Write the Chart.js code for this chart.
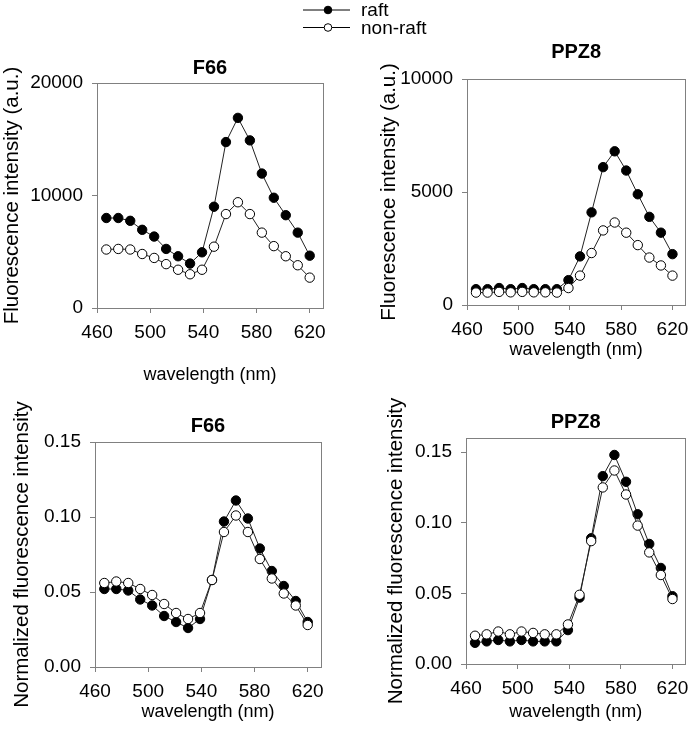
<!DOCTYPE html>
<html>
<head>
<meta charset="utf-8">
<script src="https://cdn.jsdelivr.net/npm/chart.js@4.4.1/dist/chart.umd.min.js"></script>
<style>
  body { margin: 0; background: #fff; }
  #wrap { position: relative; width: 697px; height: 744px; }
  #wrap canvas { position: absolute; left: 0; top: 0; }
</style>
</head>
<body>
<div id="wrap">
  <canvas id="f66Raw" width="697" height="744"></canvas>
  <canvas id="ppz8Raw" width="697" height="744"></canvas>
  <canvas id="f66Norm" width="697" height="744"></canvas>
  <canvas id="ppz8Norm" width="697" height="744"></canvas>
</div>
<script>
//DATA
const wavelength = [467, 476, 485, 494, 503, 512, 521, 530, 539, 548, 557, 566, 575, 584, 593, 602, 611, 620];

const f66RaftRaw = [8000, 8000, 7750, 6950, 6350, 5250, 4600, 3950, 4950, 9000, 14750, 16900, 14900, 11950, 9800, 8250, 6700, 4650];
const f66NonRaftRaw = [5200, 5250, 5200, 4800, 4450, 3900, 3400, 3000, 3400, 5450, 8350, 9400, 8350, 6700, 5500, 4600, 3800, 2700];

const ppz8RaftRaw = [700, 700, 750, 700, 750, 700, 700, 700, 1100, 2150, 4100, 6100, 6800, 5950, 4900, 3900, 3200, 2250];
const ppz8NonRaftRaw = [550, 550, 580, 560, 580, 560, 560, 550, 750, 1300, 2300, 3300, 3650, 3200, 2650, 2100, 1750, 1300];

const f66RaftNorm = [0.052, 0.052, 0.051, 0.045, 0.041, 0.034, 0.030, 0.026, 0.032, 0.058, 0.097, 0.111, 0.099, 0.079, 0.064, 0.054, 0.044, 0.030];
const f66NonRaftNorm = [0.056, 0.057, 0.056, 0.052, 0.048, 0.042, 0.036, 0.032, 0.036, 0.058, 0.090, 0.101, 0.090, 0.072, 0.059, 0.049, 0.041, 0.028];

const ppz8RaftNorm = [0.015, 0.016, 0.017, 0.016, 0.017, 0.016, 0.016, 0.016, 0.024, 0.047, 0.089, 0.133, 0.148, 0.129, 0.106, 0.085, 0.068, 0.048];
const ppz8NonRaftNorm = [0.020, 0.021, 0.023, 0.021, 0.023, 0.022, 0.021, 0.021, 0.028, 0.049, 0.087, 0.125, 0.137, 0.120, 0.098, 0.079, 0.063, 0.046];

const seriesNames = ['raft', 'non-raft'];
const xTicks = [460, 500, 540, 580, 620];
const f66RawTicks = [0, 10000, 20000];
const ppz8RawTicks = [0, 5000, 10000];
const normTicks = [0, 0.05, 0.10, 0.15];

//STYLE
Chart.defaults.font.family = '"Liberation Sans", Arial, sans-serif';
Chart.defaults.color = '#000';
const axisGray = '#808080';

const framePlugin = {
    id: 'frame',
    beforeDatasetsDraw(chart) {
        const { ctx, chartArea: a } = chart;
        ctx.save();
        ctx.strokeStyle = axisGray;
        ctx.lineWidth = 1;
        ctx.strokeRect(Math.round(a.left) + 0.5, Math.round(a.top) + 0.5,
            Math.round(a.right - a.left), Math.round(a.bottom - a.top));
        ctx.restore();
    }
};

// legend with line + marker, drawn once on the first chart
const legendPlugin = {
    id: 'raftLegend',
    afterDraw(chart) {
        const ctx = chart.ctx;
        const fills = ['#000', '#fff'];
        ctx.save();
        seriesNames.forEach((name, i) => {
            const y = 10 + i * 17.5;
            ctx.strokeStyle = '#000';
            ctx.lineWidth = 1;
            ctx.beginPath();
            ctx.moveTo(303, y);
            ctx.lineTo(350, y);
            ctx.stroke();
            ctx.beginPath();
            ctx.arc(328, y, 3.8, 0, Math.PI * 2);
            ctx.fillStyle = fills[i];
            ctx.fill();
            ctx.stroke();
            ctx.fillStyle = '#000';
            ctx.font = '19px "Liberation Sans", Arial, sans-serif';
            ctx.textBaseline = 'middle';
            ctx.fillText(name, 361, y + 1);
        });
        ctx.restore();
    }
};

function toPoints(vals) {
    return wavelength.map((w, i) => ({ x: w, y: vals[i] }));
}

function makeDatasets(raft, nonRaft) {
    return [{
        label: seriesNames[0],
        data: toPoints(raft),
        showLine: true,
        borderColor: '#222',
        borderWidth: 1,
        pointRadius: 4.7,
        pointBorderWidth: 1,
        pointBorderColor: '#000',
        pointBackgroundColor: '#000',
        order: 2
    }, {
        label: seriesNames[1],
        data: toPoints(nonRaft),
        showLine: true,
        borderColor: '#222',
        borderWidth: 1,
        pointRadius: 4.7,
        pointBorderWidth: 1,
        pointBorderColor: '#000',
        pointBackgroundColor: '#fff',
        order: 1
    }];
}

function makeConfig(p) {
    return {
        type: 'scatter',
        data: { datasets: makeDatasets(p.raft, p.nonRaft) },
        options: {
            responsive: false,
            animation: false,
            layout: { padding: p.pad },
            plugins: {
                legend: { display: false },
                tooltip: { enabled: false },
                title: {
                    display: true,
                    text: p.title,
                    fullSize: false,
                    font: { size: 20, weight: 'bold' },
                    padding: { top: 0, bottom: p.titleGap },
                    color: '#000'
                }
            },
            scales: {
                x: {
                    type: 'linear',
                    min: 460,
                    max: 630,
                    afterBuildTicks: s => { s.ticks = xTicks.map(v => ({ value: v })); },
                    afterFit: s => { s.height = p.xh; },
                    grid: { drawOnChartArea: false, drawTicks: true, tickLength: 5, color: axisGray },
                    border: { color: axisGray, width: 1 },
                    ticks: { padding: 8, font: { size: 19 }, color: '#000', callback: v => String(v) },
                    title: { display: true, text: 'wavelength (nm)', font: { size: 18 }, padding: 0, color: '#000' }
                },
                y: {
                    type: 'linear',
                    min: 0,
                    max: p.ymax,
                    afterBuildTicks: s => { s.ticks = p.yTicks.map(v => ({ value: v })); },
                    afterFit: s => { s.width = p.yw; },
                    grid: { drawOnChartArea: false, drawTicks: true, tickLength: 5, color: axisGray },
                    border: { color: axisGray, width: 1 },
                    ticks: { padding: 9, font: { size: 19 }, color: '#000', callback: p.fmt },
                    title: { display: true, text: p.ytitle, font: { size: 20.5 }, padding: 0, color: '#000' }
                }
            }
        },
        plugins: p.plugins
    };
}

const rawFmt = v => String(v);
const normFmt = v => v.toFixed(2);

//RENDER
const f66RawChart = new Chart(document.getElementById('f66Raw'), makeConfig({
    raft: f66RaftRaw, nonRaft: f66NonRaftRaw, title: 'F66',
    ymax: 20000, yTicks: f66RawTicks, fmt: rawFmt, ytitle: 'Fluorescence intensity (a.u.)',
    pad: { left: 0, right: 374, top: 56, bottom: 358 }, titleGap: 3, xh: 78, yw: 97,
    plugins: [framePlugin, legendPlugin]
}));

const ppz8RawChart = new Chart(document.getElementById('ppz8Raw'), makeConfig({
    raft: ppz8RaftRaw, nonRaft: ppz8NonRaftRaw, title: 'PPZ8',
    ymax: 10000, yTicks: ppz8RawTicks, fmt: rawFmt, ytitle: 'Fluorescence intensity (a.u.)',
    pad: { left: 377, right: 5, top: 40, bottom: 383 }, titleGap: 15, xh: 56, yw: 90,
    plugins: [framePlugin]
}));

const f66NormChart = new Chart(document.getElementById('f66Norm'), makeConfig({
    raft: f66RaftNorm, nonRaft: f66NonRaftNorm, title: 'F66',
    ymax: 0.15, yTicks: normTicks, fmt: normFmt, ytitle: 'Normalized fluorescence intensity',
    pad: { left: 10, right: 376, top: 414, bottom: 21 }, titleGap: 4, xh: 56, yw: 85,
    plugins: [framePlugin]
}));

const ppz8NormChart = new Chart(document.getElementById('ppz8Norm'), makeConfig({
    raft: ppz8RaftNorm, nonRaft: ppz8NonRaftNorm, title: 'PPZ8',
    ymax: 0.16, yTicks: normTicks, fmt: normFmt, ytitle: 'Normalized fluorescence intensity',
    pad: { left: 384, right: 5, top: 410.5, bottom: 21 }, titleGap: 3.5, xh: 59, yw: 82,
    plugins: [framePlugin]
}));
</script>
</body>
</html>
